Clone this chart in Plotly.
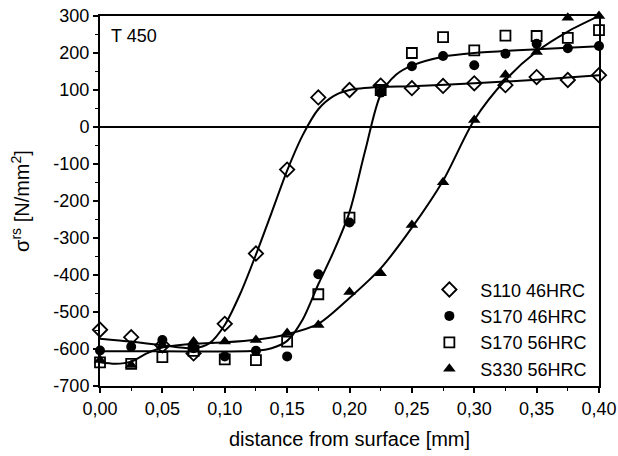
import plotly.graph_objects as go

# ---- data ----
distance_mm = [0.0, 0.025, 0.05, 0.075, 0.1, 0.125, 0.15, 0.175, 0.2,
               0.225, 0.25, 0.275, 0.3, 0.325, 0.35, 0.375, 0.4]

s110_46hrc = [-548, -568, -590, -612, -532, -342, -115, 80, 100,
              112, 105, 111, 118, 113, 135, 127, 140]
s170_46hrc = [-604, -594, -576, -598, -620, -605, -620, -398, -258,
              93, 164, 192, 167, 198, 225, 213, 219]
s170_56hrc = [-636, -640, -622, -605, -628, -630, -580, -452, -245,
              100, 200, 243, 207, 247, 246, 241, 262]
s330_56hrc = [-630, -643, -590, -580, -580, -576, -557, -535, -446,
              -395, -265, -149, 19, 141, 203, 295, 300]

# fitted curves
fit_s110_x = [0.0, 0.025, 0.05, 0.075, 0.0875, 0.1, 0.1125, 0.125, 0.1375,
              0.15, 0.1625, 0.175, 0.1875, 0.2, 0.225, 0.25, 0.3, 0.35, 0.4]
fit_s110_y = [-572, -580, -590, -598, -585, -535, -450, -345, -232,
              -118, -22, 48, 84, 100, 108, 110, 118, 128, 140]

fit_s170_x = [0.0, 0.05, 0.1, 0.125, 0.1375, 0.15, 0.1625, 0.175, 0.1875,
              0.2, 0.2125, 0.225, 0.2375, 0.25, 0.275, 0.3, 0.35, 0.4]
fit_s170_y = [-606, -606, -607, -605, -598, -578, -520, -425, -335,
              -230, -65, 88, 142, 166, 190, 200, 210, 218]

fit_s330_x = [0.0, 0.0125, 0.025, 0.0375, 0.05, 0.075, 0.1, 0.125, 0.15,
              0.175, 0.2, 0.225, 0.25, 0.275, 0.3, 0.325, 0.35, 0.375, 0.4]
fit_s330_y = [-636, -640, -634, -612, -596, -586, -582, -575, -560,
              -532, -462, -382, -272, -145, 19, 127, 204, 258, 300]

series_names = ["S110 46HRC", "S170 46HRC", "S170 56HRC", "S330 56HRC"]
x_ticks = [0.0, 0.05, 0.1, 0.15, 0.2, 0.25, 0.3, 0.35, 0.4]
x_tick_labels = ["0,00", "0,05", "0,10", "0,15", "0,20", "0,25", "0,30",
                 "0,35", "0,40"]
y_ticks = [-700, -600, -500, -400, -300, -200, -100, 0, 100, 200, 300]
y_tick_labels = [str(v) for v in y_ticks]

FONT = "Liberation Sans, Arial, sans-serif"

fig = go.Figure()

for fx, fy in [(fit_s110_x, fit_s110_y), (fit_s170_x, fit_s170_y),
               (fit_s330_x, fit_s330_y)]:
    fig.add_trace(go.Scatter(x=fx, y=fy, mode="lines",
                             line=dict(color="black", width=2, shape="spline",
                                       smoothing=0.8),
                             showlegend=False, hoverinfo="skip",
                             cliponaxis=False))

marker_specs = [
    (s110_46hrc, dict(symbol="diamond-open", size=11, color="black",
                      line=dict(width=1.8, color="black"))),
    (s170_46hrc, dict(symbol="circle", size=10, color="black",
                      line=dict(width=0))),
    (s170_56hrc, dict(symbol="square-open", size=10, color="black",
                      line=dict(width=1.8, color="black"))),
    (s330_56hrc, dict(symbol="triangle-up", size=11, color="black",
                      line=dict(width=0))),
]
for name, (vals, mk) in zip(series_names, marker_specs):
    fig.add_trace(go.Scatter(x=distance_mm, y=vals, mode="markers",
                             name=name, marker=mk, cliponaxis=False))

axis_common = dict(showgrid=False, showline=True, linecolor="black",
                   linewidth=2, mirror=True, ticks="outside",
                   tickcolor="black", tickwidth=1.5, ticklen=5,
                   tickfont=dict(family=FONT, size=18, color="black"))

fig.update_xaxes(range=[0, 0.4], tickvals=x_ticks, ticktext=x_tick_labels,
                 minor=dict(dtick=0.025, ticks="outside", ticklen=3,
                            tickcolor="black", tickwidth=1.2),
                 zeroline=False,
                 title=dict(text="distance from surface [mm]",
                            font=dict(family=FONT, size=20, color="black"),
                            standoff=14),
                 **axis_common)
fig.update_yaxes(range=[-700, 300], tickvals=y_ticks, ticktext=y_tick_labels,
                 minor=dict(dtick=50, ticks="outside", ticklen=3,
                            tickcolor="black", tickwidth=1.2),
                 zeroline=True, zerolinecolor="black", zerolinewidth=2,
                 title=dict(text="σ<sup>rs</sup> [N/mm<sup>2</sup>]",
                            font=dict(family=FONT, size=20, color="black"),
                            standoff=18),
                 **axis_common)

fig.add_annotation(text="T 450", xref="paper", yref="paper", x=0.018, y=0.945,
                   xanchor="left", yanchor="middle", showarrow=False,
                   font=dict(family=FONT, size=18, color="black"))

fig.update_layout(
    width=618, height=456,
    margin=dict(l=100, r=19, t=16, b=70, autoexpand=False),
    paper_bgcolor="white", plot_bgcolor="white",
    legend=dict(x=0.638, y=0.31, xanchor="left", yanchor="top",
                bgcolor="rgba(0,0,0,0)", borderwidth=0,
                font=dict(family=FONT, size=18, color="black"),
                itemwidth=52, tracegroupgap=0),
    showlegend=True,
)

fig.write_html("out.html")
